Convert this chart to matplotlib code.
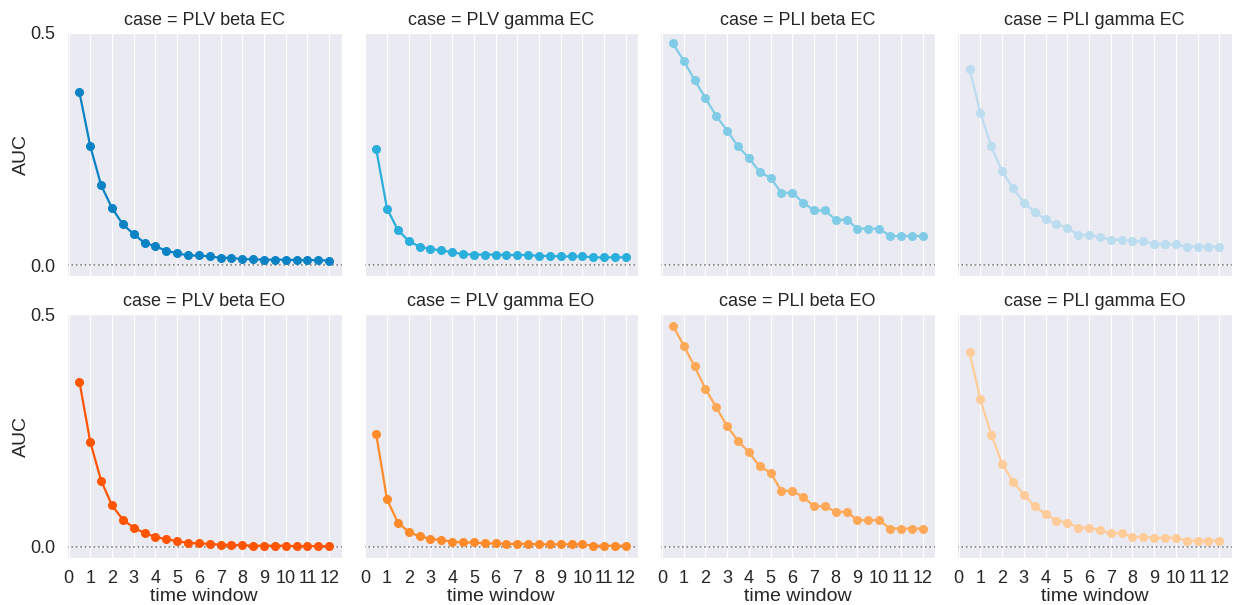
import matplotlib
matplotlib.use('Agg')
import matplotlib.pyplot as plt
import seaborn as sns
import numpy as np

sns.set_style("darkgrid")
plt.rcParams['font.family'] = ['Liberation Sans', 'DejaVu Sans']

# time windows 0.5 .. 12 in steps of 0.5
time_window = [0.5, 1.0, 1.5, 2.0, 2.5, 3.0, 3.5, 4.0, 4.5, 5.0, 5.5, 6.0,
               6.5, 7.0, 7.5, 8.0, 8.5, 9.0, 9.5, 10.0, 10.5, 11.0, 11.5, 12.0]

plv_beta_ec = [0.372, 0.256, 0.172, 0.123, 0.088, 0.067, 0.048, 0.041, 0.031, 0.026, 0.021, 0.021,
               0.019, 0.016, 0.016, 0.013, 0.013, 0.012, 0.012, 0.012, 0.011, 0.011, 0.011, 0.010]
plv_gamma_ec = [0.251, 0.122, 0.076, 0.052, 0.040, 0.035, 0.032, 0.028, 0.024, 0.023, 0.023, 0.023,
                0.022, 0.022, 0.022, 0.020, 0.020, 0.019, 0.019, 0.019, 0.017, 0.017, 0.017, 0.017]
pli_beta_ec = [0.478, 0.440, 0.399, 0.360, 0.321, 0.290, 0.256, 0.231, 0.201, 0.188, 0.156, 0.156,
               0.135, 0.118, 0.118, 0.098, 0.098, 0.079, 0.079, 0.079, 0.063, 0.063, 0.063, 0.063]
pli_gamma_ec = [0.423, 0.328, 0.256, 0.202, 0.166, 0.135, 0.115, 0.099, 0.088, 0.081, 0.065, 0.065,
                0.061, 0.055, 0.055, 0.052, 0.052, 0.045, 0.045, 0.045, 0.040, 0.040, 0.040, 0.040]

plv_beta_eo = [0.355, 0.225, 0.142, 0.089, 0.058, 0.041, 0.029, 0.021, 0.016, 0.012, 0.008, 0.007,
               0.006, 0.004, 0.004, 0.003, 0.002, 0.002, 0.002, 0.002, 0.001, 0.001, 0.001, 0.001]
plv_gamma_eo = [0.243, 0.102, 0.052, 0.032, 0.022, 0.017, 0.014, 0.011, 0.009, 0.009, 0.007, 0.007,
                0.006, 0.006, 0.006, 0.005, 0.005, 0.005, 0.005, 0.005, 0.002, 0.002, 0.002, 0.002]
pli_beta_eo = [0.476, 0.433, 0.388, 0.340, 0.300, 0.259, 0.228, 0.203, 0.173, 0.159, 0.120, 0.120,
               0.107, 0.087, 0.087, 0.075, 0.075, 0.057, 0.057, 0.057, 0.039, 0.039, 0.039, 0.039]
pli_gamma_eo = [0.418, 0.317, 0.241, 0.179, 0.140, 0.112, 0.087, 0.071, 0.056, 0.052, 0.041, 0.041,
                0.035, 0.029, 0.029, 0.021, 0.021, 0.019, 0.019, 0.019, 0.013, 0.013, 0.013, 0.013]

cases = ["PLV beta EC", "PLV gamma EC", "PLI beta EC", "PLI gamma EC",
         "PLV beta EO", "PLV gamma EO", "PLI beta EO", "PLI gamma EO"]
series = [plv_beta_ec, plv_gamma_ec, pli_beta_ec, pli_gamma_ec,
          plv_beta_eo, plv_gamma_eo, pli_beta_eo, pli_gamma_eo]
colors = ["#0a82c4", "#2aafdc", "#80cbe6", "#bcdcf0",
          "#ff5500", "#ff8a2a", "#ffa858", "#ffcc99"]

fig, axes = plt.subplots(2, 4, figsize=(12.33, 6.05), dpi=100, sharex=True, sharey=True)
fig.subplots_adjust(left=0.0543, right=0.999, top=0.9455, bottom=0.078, wspace=0.08, hspace=0.156)

for ax, case, vals, col in zip(axes.flat, cases, series, colors):
    ax.axhline(0, color="#808080", linestyle=":", linewidth=1.2)
    ax.plot(time_window, vals, color=col, marker="o", markersize=5.5, linewidth=1.6)
    ax.set_title(f"case = {case}", fontsize=13, pad=6)
    ax.set_xticks(range(0, 13))
    ax.set_yticks([0.0, 0.5])
    ax.tick_params(labelsize=13, pad=5, colors="#262626")
    ax.set_xlabel("")
    ax.set_ylabel("")

for ax in axes[1]:
    ax.set_xlabel("time window", fontsize=14, labelpad=1)
for ax in axes[:, 0]:
    ax.set_ylabel("AUC", fontsize=14, labelpad=0)

axes[0, 0].set_ylim(-0.024, 0.5)
axes[0, 0].set_xlim(-0.075, 12.575)

fig.savefig("out.png", dpi=100)
